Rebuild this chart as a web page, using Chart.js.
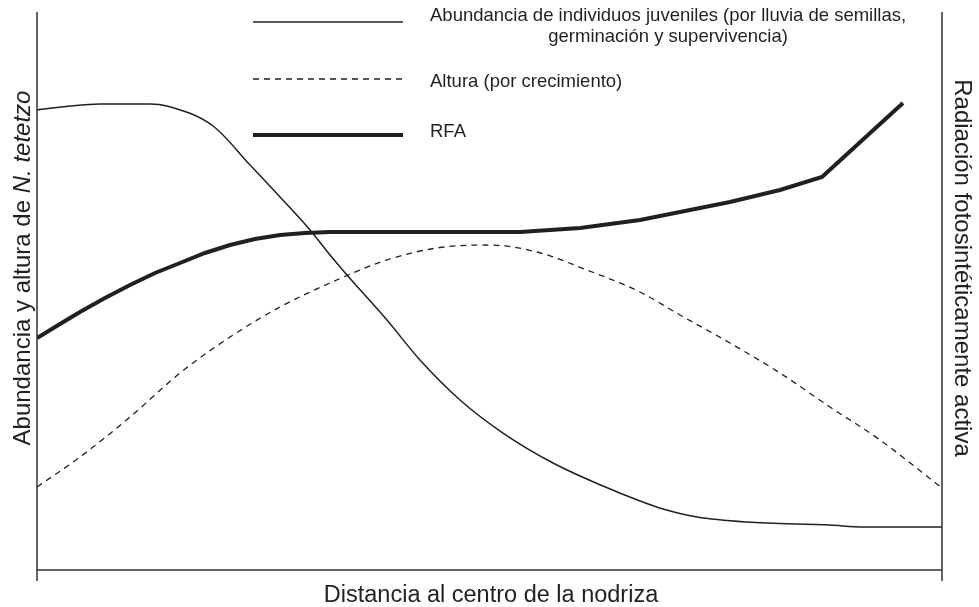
<!DOCTYPE html>
<html>
<head>
<meta charset="utf-8">
<script src="https://cdn.jsdelivr.net/npm/chart.js@4"></script>
<style>
  body { margin: 0; background: #fff; }
  #wrap { width: 979px; height: 607px; position: relative; }
</style>
</head>
<body>
<div id="wrap"><canvas id="nodriza-chart"></canvas></div>
<script>
// distancia (0-100, relativa) y valores relativos (0-100)
const abundanciaX = [0, 3.65, 6.96, 12.49, 14.36, 19.45, 23.54, 26.85, 30.17, 32.38, 34.25, 38.67, 42.32, 46.74, 51.49, 57.02, 62.54, 66.63, 69.17, 72.93, 78.45, 87.62, 91.27, 100];
const abundanciaY = [82.44, 83.15, 83.51, 83.51, 83.15, 79.57, 72.58, 66.85, 60.93, 56.45, 52.87, 44.80, 37.63, 30.47, 24.55, 19.18, 15.05, 12.37, 10.93, 9.50, 8.60, 8.06, 7.71, 7.71];

const alturaX = [0, 4.75, 10.28, 15.80, 21.33, 26.85, 32.38, 38.67, 44.20, 49.72, 55.25, 60.77, 66.63, 71.05, 76.57, 82.10, 87.62, 93.15, 100];
const alturaY = [14.87, 20.25, 27.42, 35.30, 41.76, 47.13, 51.43, 55.56, 57.71, 58.24, 56.99, 53.76, 49.82, 45.70, 40.68, 35.30, 29.21, 23.30, 14.70];

const rfaX = [0, 2.54, 4.75, 7.51, 10.28, 13.04, 15.80, 18.56, 21.33, 24.09, 26.85, 29.61, 32.38, 42.32, 53.37, 60.00, 66.63, 76.57, 82.10, 86.74, 95.69];
const rfaY = [41.58, 44.09, 46.24, 48.75, 51.08, 53.23, 55.02, 56.81, 58.24, 59.32, 60.04, 60.39, 60.57, 60.57, 60.57, 61.29, 62.72, 65.95, 68.10, 70.43, 83.69];

const legendLabels = [
    ['Abundancia de individuos juveniles (por lluvia de semillas,', 'germinación y supervivencia)'],
    ['Altura (por crecimiento)'],
    ['RFA']
];
const xTitle = 'Distancia al centro de la nodriza';
const yTitleLeft = ['Abundancia y altura de ', 'N. tetetzo'];
const yTitleRight = 'Radiación fotosintéticamente activa';

const ink = '#231f20';
const fontName = '"Liberation Sans", Arial, sans-serif';

function toPoints(xs, ys) {
    return xs.map((x, i) => ({ x: x, y: ys[i] }));
}

// ejes, titulos y leyenda dibujados sobre el canvas
const decoPlugin = {
    id: 'deco',
    afterDraw(chart) {
        const ctx = chart.ctx;
        const a = chart.chartArea;
        ctx.save();
        ctx.strokeStyle = '#333';
        ctx.lineWidth = 1.5;
        ctx.beginPath();
        ctx.moveTo(a.left, a.top); ctx.lineTo(a.left, a.bottom + 11);
        ctx.moveTo(a.right, a.top); ctx.lineTo(a.right, a.bottom + 11);
        ctx.moveTo(a.left, a.bottom); ctx.lineTo(a.right, a.bottom);
        ctx.stroke();

        ctx.fillStyle = ink;
        ctx.textBaseline = 'alphabetic';

        // titulo eje x
        ctx.font = '23.5px ' + fontName;
        ctx.textAlign = 'center';
        ctx.fillText(xTitle, 491, 602);

        // titulo eje izquierdo (con cursiva)
        ctx.save();
        ctx.translate(30, 268);
        ctx.rotate(-Math.PI / 2);
        ctx.font = '24px ' + fontName;
        const w1 = ctx.measureText(yTitleLeft[0]).width;
        ctx.font = 'italic 24px ' + fontName;
        const w2 = ctx.measureText(yTitleLeft[1]).width;
        let sx = -(w1 + w2) / 2;
        ctx.textAlign = 'left';
        ctx.font = '24px ' + fontName;
        ctx.fillText(yTitleLeft[0], sx, 0);
        ctx.font = 'italic 24px ' + fontName;
        ctx.fillText(yTitleLeft[1], sx + w1, 0);
        ctx.restore();

        // titulo eje derecho
        ctx.save();
        ctx.translate(955, 268);
        ctx.rotate(Math.PI / 2);
        ctx.font = '24px ' + fontName;
        ctx.textAlign = 'center';
        ctx.fillText(yTitleRight, 0, 0);
        ctx.restore();

        // leyenda
        const rows = [22, 79, 135];
        const baselines = [[21, 42], [87], [137]];
        chart.data.datasets.forEach((ds, i) => {
            ctx.save();
            ctx.strokeStyle = ds.borderColor;
            ctx.lineWidth = ds.borderWidth;
            ctx.setLineDash(ds.borderDash || []);
            ctx.beginPath();
            ctx.moveTo(253, rows[i]);
            ctx.lineTo(403, rows[i]);
            ctx.stroke();
            ctx.restore();

            ctx.font = '18.5px ' + fontName;
            const lines = legendLabels[i];
            if (lines.length === 1) {
                ctx.textAlign = 'left';
                ctx.fillText(lines[0], 430, baselines[i][0]);
            } else {
                const wFirst = ctx.measureText(lines[0]).width;
                ctx.textAlign = 'left';
                ctx.fillText(lines[0], 430, baselines[i][0]);
                ctx.textAlign = 'center';
                ctx.fillText(lines[1], 430 + wFirst / 2, baselines[i][1]);
            }
        });
        ctx.restore();
    }
};

const ctx = document.getElementById('nodriza-chart').getContext('2d');
new Chart(ctx, {
    type: 'line',
    data: {
        datasets: [{
            label: 'Abundancia',
            data: toPoints(abundanciaX, abundanciaY),
            borderColor: ink,
            borderWidth: 1.5,
            pointRadius: 0,
            cubicInterpolationMode: 'monotone',
            yAxisID: 'y'
        }, {
            label: 'Altura',
            data: toPoints(alturaX, alturaY),
            borderColor: ink,
            borderWidth: 1.3,
            borderDash: [6, 5],
            pointRadius: 0,
            cubicInterpolationMode: 'monotone',
            yAxisID: 'y'
        }, {
            label: 'RFA',
            data: toPoints(rfaX, rfaY),
            borderColor: ink,
            borderWidth: 4,
            pointRadius: 0,
            tension: 0,
            yAxisID: 'y2'
        }]
    },
    options: {
        responsive: true,
        maintainAspectRatio: false,
        animation: false,
        layout: {
            padding: { left: 37, right: 37, top: 12, bottom: 37 }
        },
        scales: {
            x: { type: 'linear', min: 0, max: 100, display: false },
            y: { min: 0, max: 100, display: false },
            y2: { min: 0, max: 100, display: false, position: 'right' }
        },
        plugins: {
            legend: { display: false },
            tooltip: { enabled: false }
        }
    },
    plugins: [decoPlugin]
});
</script>
</body>
</html>
